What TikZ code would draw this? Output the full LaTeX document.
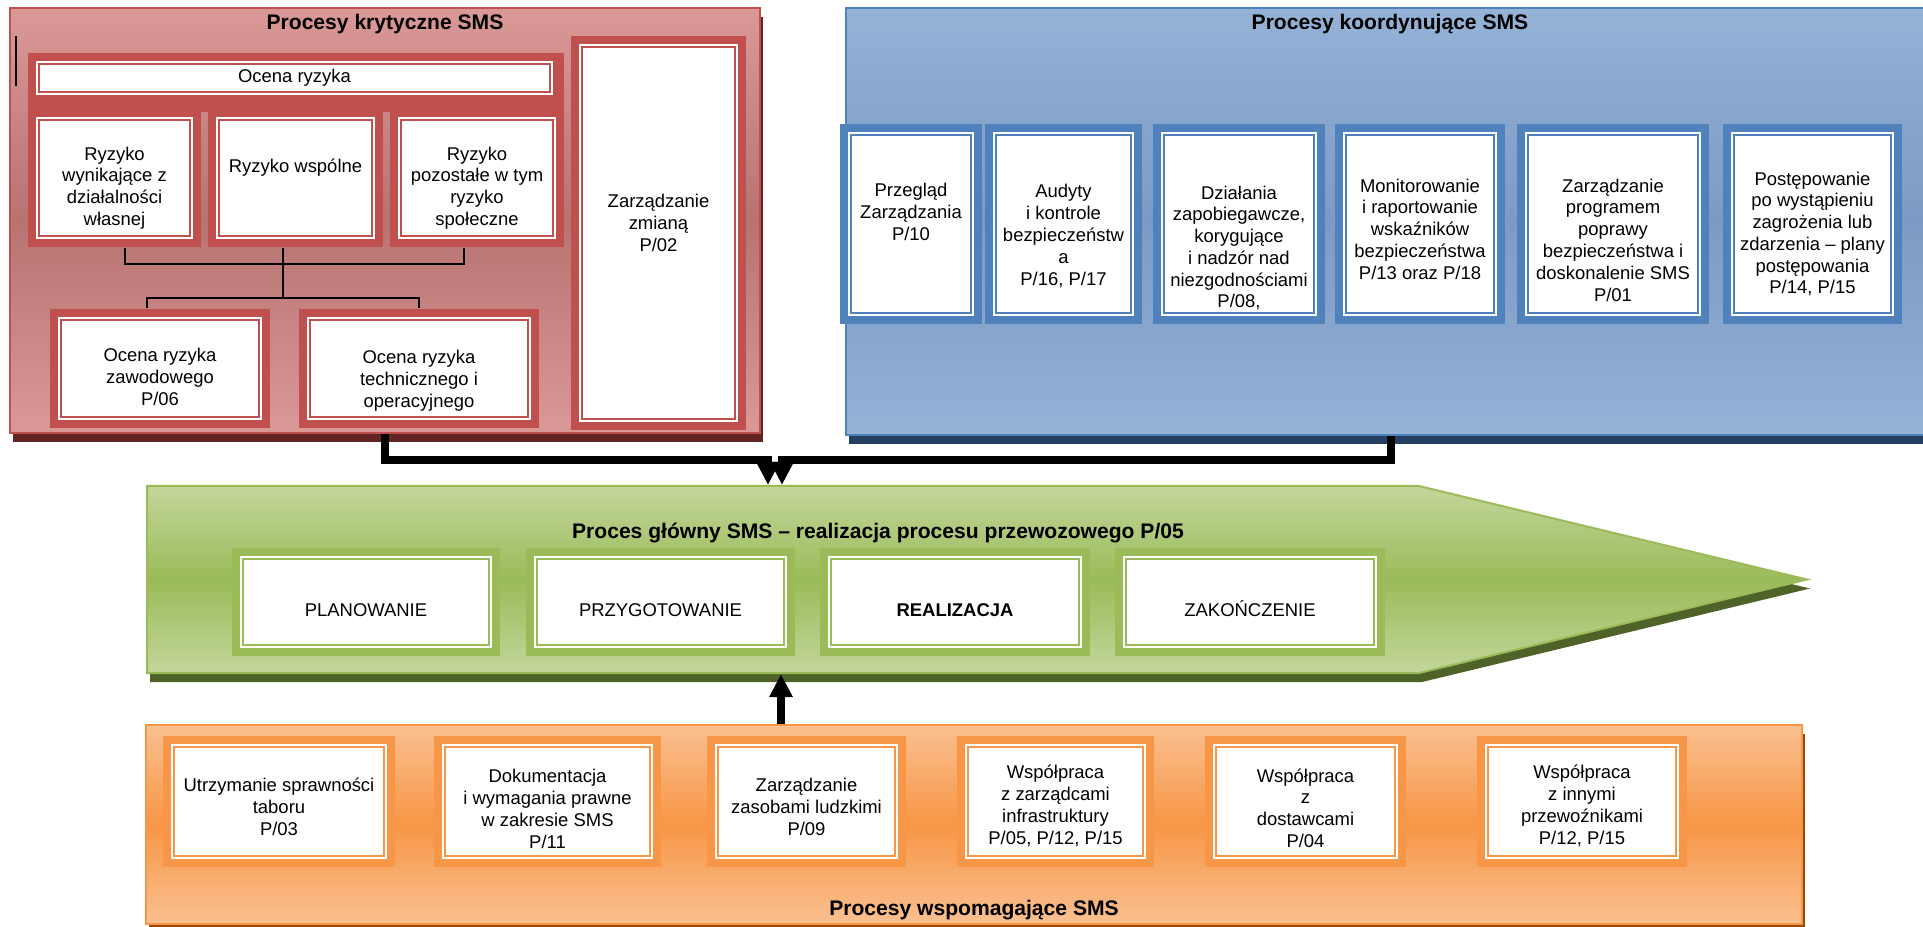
\documentclass[tikz,border=0pt]{standalone}
\usepackage{fontspec}
\setmainfont{Liberation Sans}
\usetikzlibrary{shapes.arrows,shadows,arrows.meta}

\definecolor{redframe}{HTML}{C0504D}
\definecolor{redlight}{HTML}{DA9896}
\definecolor{reddark}{HTML}{B87371}
\definecolor{redshadow}{HTML}{632523}
\definecolor{blueframe}{HTML}{4F81BD}
\definecolor{bluelight}{HTML}{95B3D7}
\definecolor{bluedark}{HTML}{7C9AC3}
\definecolor{blueshadow}{HTML}{243F60}
\definecolor{greenframe}{HTML}{9BBB59}
\definecolor{greenlight}{HTML}{C3D69B}
\definecolor{greendark}{HTML}{9BBB59}
\definecolor{greenshadow}{HTML}{4F6228}
\definecolor{orangeframe}{HTML}{F79646}
\definecolor{orangelight}{HTML}{FAC090}
\definecolor{orangedark}{HTML}{F79646}
\definecolor{orangeshadow}{HTML}{984807}

\newcommand{\boxfont}{\fontsize{10.5}{12.4}\selectfont}
\newcommand{\titlefont}{\fontsize{12}{14}\selectfont\bfseries}
% podniesienie / obnizenie tekstu w ramce
\newcommand{\tdn}[1]{\rule{0pt}{#1}}
\newcommand{\tup}[1]{\rule[-#1]{0pt}{#1}}

\tikzset{
  panel/.style n args={4}{draw=#1, line width=0.4mm, inner sep=0pt,
    top color=#2, bottom color=#2, middle color=#3,
    drop shadow={shadow xshift=0.6mm, shadow yshift=-1.8mm, fill=#4, opacity=1}},
  pbox/.style={draw=#1, line width=0.4mm, fill=white, inner sep=0pt,
    align=center, font=\boxfont,
    preaction={draw=#1, line width=4.4mm},
    preaction={draw=white, line width=1.2mm}},
  ptitle/.style={font=\titlefont, inner sep=0pt},
  conn/.style={line width=1.6mm, -{Triangle[width=4.4mm,length=4.6mm]}},
  tree/.style={line width=0.4mm},
}

\begin{document}
\begin{tikzpicture}[x=0.2mm, y=-0.2mm]
\useasboundingbox (0,0) rectangle (1923,926);

% Procesy krytyczne
\node[panel={redframe}{redlight}{reddark}{redshadow},
      minimum width=150mm, minimum height=85mm] (crit) at (385,220.5) {};
\node[ptitle] (critT) at (385,24) {Procesy krytyczne SMS};
\draw[line width=0.4mm] (16,36) -- (16,86);
\fill[redframe] (28,53) rectangle (564,112);
\node[pbox=redframe, minimum width=102.2mm, minimum height=5.6mm] (ocena) at (294.5,78) {Ocena ryzyka};
\node[pbox=redframe, minimum width=30.2mm, minimum height=23.2mm] (r1) at (114.5,178)
  {\tdn{19pt}Ryzyko\\wynikające z\\działalności\\własnej};
\node[pbox=redframe, minimum width=30.6mm, minimum height=23.2mm] (r2) at (295.5,178)
  {Ryzyko wspólne\tup{13.6pt}};
\node[pbox=redframe, minimum width=30.4mm, minimum height=23.2mm] (r3) at (477,178)
  {\tdn{19pt}Ryzyko\\pozostałe w tym\\ryzyko\\społeczne};
\node[pbox=redframe, minimum width=39.6mm, minimum height=19.4mm] (z1) at (160,368.5)
  {\tdn{17.3pt}Ocena ryzyka\\zawodowego\\P/06};
\node[pbox=redframe, minimum width=43.6mm, minimum height=19.4mm] (z2) at (419,368.5)
  {\tdn{21.3pt}Ocena ryzyka\\technicznego i\\operacyjnego};
\node[pbox=redframe, minimum width=30.6mm, minimum height=74.4mm] (zm) at (658.5,233)
  {Zarządzanie\\zmianą\\P/02\tup{11.5pt}};
% drzewko ryzyk
\draw[tree, shorten <=2.2mm, shorten >=2.2mm] (125,0 |- r1.south) -- (125,264) -| (464,0 |- r3.south);
\draw[tree, shorten <=2.2mm] (283,0 |- r2.south) -- (283,298);
\draw[tree, shorten <=2.2mm, shorten >=2.2mm] (147,0 |- z1.north) |- (419,298) -- (419,0 |- z2.north);

% Procesy koordynujace
\node[panel={blueframe}{bluelight}{bluedark}{blueshadow},
      minimum width=218mm, minimum height=85.4mm] (coord) at (1391,221.5) {};
\node[ptitle] (coordT) at (1390,24) {Procesy koordynujące SMS};
\node[pbox=blueframe, minimum width=24mm, minimum height=35.6mm] (b1) at (911,224)
  {Przegląd\\Zarządzania\\P/10\tup{13.9pt}};
\node[pbox=blueframe, minimum width=27mm, minimum height=35.6mm] (b2) at (1063.5,224)
  {\tdn{21.3pt}Audyty\\i kontrole\\bezpieczeństw\\a\\P/16, P/17};
\node[pbox=blueframe, minimum width=30mm, minimum height=35.6mm] (b3) at (1239,224)
  {\tdn{34.9pt}Działania\\zapobiegawcze,\\korygujące\\i nadzór nad\\niezgodnościami\\P/08,};
\node[pbox=blueframe, minimum width=29.6mm, minimum height=35.6mm] (b4) at (1420,224)
  {\tdn{13.4pt}Monitorowanie\\i raportowanie\\wskaźników\\bezpieczeństwa\\P/13 oraz P/18};
\node[pbox=blueframe, minimum width=34mm, minimum height=35.6mm] (b5) at (1613,224)
  {\tdn{25.8pt}Zarządzanie\\programem\\poprawy\\bezpieczeństwa i\\doskonalenie SMS\\P/01};
\node[pbox=blueframe, minimum width=31.4mm, minimum height=35.6mm] (b6) at (1812.5,224)
  {\tdn{19pt}Postępowanie\\po wystąpieniu\\zagrożenia lub\\zdarzenia – plany\\postępowania\\P/14, P/15};

% Proces glowny
\node[panel={greenframe}{greenlight}{greendark}{greenshadow}, single arrow,
      single arrow head extend=0pt, single arrow tip angle=27.1,
      minimum height=332mm, minimum width=37.4mm, anchor=tail] (main) at (146,579.5) {};
\node[ptitle] (mainT) at (878,533) {Proces główny SMS – realizacja procesu przewozowego P/05};
\node[pbox=greenframe, minimum width=49.2mm, minimum height=17.2mm] (g1) at (366,602) {\tdn{16.2pt}PLANOWANIE};
\node[pbox=greenframe, minimum width=49.4mm, minimum height=17.2mm] (g2) at (660.5,602) {\tdn{16.2pt}PRZYGOTOWANIE};
\node[pbox=greenframe, minimum width=49.6mm, minimum height=17.2mm] (g3) at (955,602) {\tdn{16.2pt}\bfseries REALIZACJA};
\node[pbox=greenframe, minimum width=49.6mm, minimum height=17.2mm] (g4) at (1250,602) {\tdn{16.2pt}ZAKOŃCZENIE};

% Procesy wspomagajace
\node[panel={orangeframe}{orangelight}{orangedark}{orangeshadow},
      minimum width=331.2mm, minimum height=39.8mm] (supp) at (974,824.5) {};
\node[ptitle] (suppT) at (974,910) {Procesy wspomagające SMS};
\node[pbox=orangeframe, minimum width=42mm, minimum height=21.8mm] (o1) at (279,801.5)
  {\tdn{13.9pt}Utrzymanie sprawności\\taboru\\P/03};
\node[pbox=orangeframe, minimum width=41mm, minimum height=21.8mm] (o2) at (547.5,801.5)
  {\tdn{16.2pt}Dokumentacja\\i wymagania prawne\\w zakresie SMS\\P/11};
\node[pbox=orangeframe, minimum width=35.4mm, minimum height=21.8mm] (o3) at (806.5,801.5)
  {\tdn{13.9pt}Zarządzanie\\zasobami ludzkimi\\P/09};
\node[pbox=orangeframe, minimum width=35mm, minimum height=21.8mm] (o4) at (1055.5,801.5)
  {\tdn{12.8pt}Współpraca\\z zarządcami\\infrastruktury\\P/05, P/12, P/15};
\node[pbox=orangeframe, minimum width=35.8mm, minimum height=21.8mm] (o5) at (1305.5,801.5)
  {\tdn{15.1pt}Współpraca\\z\\dostawcami\\P/04};
\node[pbox=orangeframe, minimum width=37.6mm, minimum height=21.8mm] (o6) at (1582,801.5)
  {\tdn{12.8pt}Współpraca\\z innymi\\przewoźnikami\\P/12, P/15};

% strzalki
\draw[conn] (crit.south) |- (768,460) -- (768,0 |- main.north);
\draw[conn] (coord.south) |- (782,460) -- (782,0 |- main.north);
\draw[conn] (781,0 |- supp.north) -- (781,0 |- main.south);
\end{tikzpicture}
\end{document}
